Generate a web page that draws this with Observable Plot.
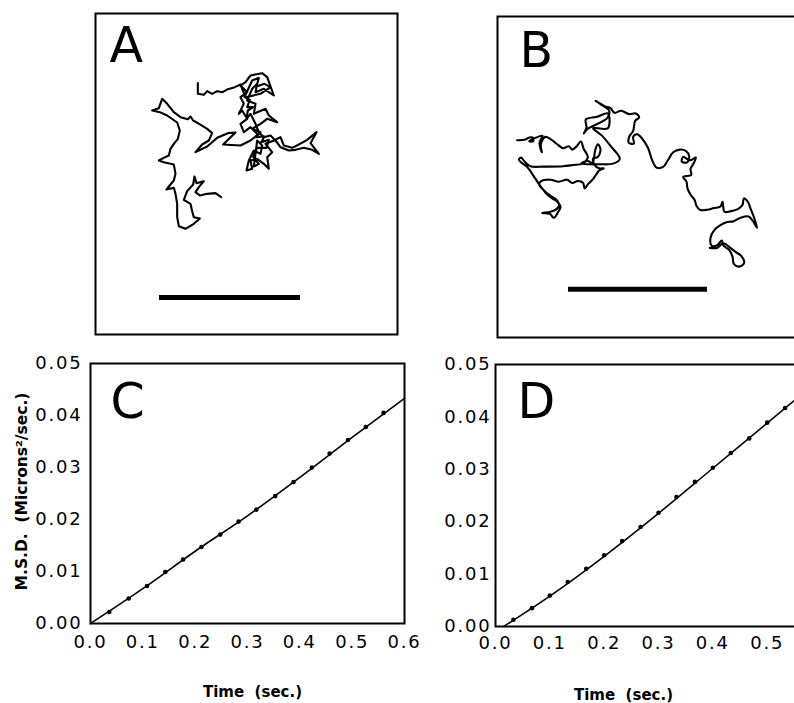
<!DOCTYPE html>
<html>
<head>
<meta charset="utf-8">
<script src="https://cdn.jsdelivr.net/npm/d3@7"></script>
<script src="https://cdn.jsdelivr.net/npm/@observablehq/plot@0.6"></script>
<style>
  html, body { margin: 0; padding: 0; background: #fff; overflow: hidden; }
  #fig { position: relative; width: 794px; height: 703px; overflow: hidden; background: #fff; }
  #fig > svg { position: absolute; overflow: visible; }
  .ticks text { letter-spacing: 1.8px; }
</style>
</head>
<body>
<div id="fig"></div>
<script>
// ---------- Panel A: particle track (trace units, 1 unit = 1/3 px of the figure) ----------
const trackA = [[242,410],[225,398],[200,400],[178,405],[165,395],[175,380],[190,362],[168,368],[162,348],[158,372],[140,392],[130,418],[150,430],[155,452],[160,470],[178,474],[160,490],[135,505],[115,497],[110,470],[110,430],[105,400],[100,382],[78,387],[90,372],[100,360],[105,340],[100,312],[70,305],[55,300],[68,293],[85,285],[90,265],[100,250],[112,235],[118,210],[110,186],[80,165],[58,155],[35,150],[55,143],[65,115],[80,130],[100,155],[120,170],[142,176],[150,168],[158,180],[176,190],[200,205],[215,218],[205,240],[185,252],[165,275],[200,258],[230,232],[262,218],[285,216],[248,252],[300,255],[330,240],[352,222],[330,200],[310,215],[300,190],[320,175],[305,150],[295,160],[310,130],[300,110],[320,95],[300,75],[315,65],[330,45],[365,38],[380,50],[400,105],[370,85],[345,95],[350,70],[335,85],[320,120],[345,130],[340,160],[375,145],[385,165],[410,185],[380,175],[360,190],[335,205],[360,215],[345,230],[372,228],[362,245],[385,238],[378,262],[350,262],[338,290],[355,310],[340,318],[350,240],[365,255],[360,280],[340,270],[325,300],[318,330],[335,325],[330,300],[350,295],[370,310],[385,325],[380,290],[395,275],[375,250],[400,240],[420,230],[430,255],[455,262],[475,252],[500,238],[528,215],[510,248],[535,280],[515,268],[490,262],[465,268],[445,270],[420,260],[405,240],[390,225],[370,230],[355,215],[345,190],[330,160],[318,175],[322,150],[338,140],[320,140],[328,118],[312,110],[335,60],[355,52],[348,78],[372,70],[390,80],[360,100],[315,110],[300,72],[283,80],[262,86],[246,95],[230,92],[215,100],[200,92],[190,103],[172,100],[172,68]];
const frameA = {x: [-135, 771], y: [-141, 822]};
const scaleBarA = {x1: 57, x2: 480, y: 711};

// ---------- Panel B: particle track ----------
const trackB = [[50,178],[75,176],[86,170],[97,170],[98,181],[86,181],[105,171],[126,165],[117,186],[124,214],[121,190],[134,168],[152,176],[170,190],[188,202],[205,196],[215,206],[227,198],[241,182],[250,205],[262,228],[246,248],[218,252],[188,256],[130,257],[90,256],[72,242],[62,230],[55,236],[64,246],[80,258],[92,274],[104,292],[116,310],[128,326],[140,340],[155,352],[170,362],[180,378],[172,394],[160,410],[148,398],[125,396],[150,392],[168,384],[176,372],[168,356],[150,344],[128,326],[116,310],[122,300],[150,296],[175,302],[200,296],[215,306],[232,300],[248,306],[252,322],[262,310],[276,296],[286,282],[296,268],[310,262],[296,262],[282,252],[278,232],[292,228],[300,205],[292,190],[284,208],[276,246],[262,240],[242,248],[270,250],[300,250],[338,248],[358,234],[330,195],[305,165],[278,142],[322,142],[322,98],[290,108],[256,116],[258,140],[250,158],[260,145],[320,112],[326,90],[300,70],[285,60],[312,76],[330,82],[342,96],[362,90],[386,100],[406,98],[416,110],[404,120],[398,150],[386,168],[385,186],[400,188],[398,168],[410,160],[424,172],[442,200],[455,238],[468,260],[488,258],[502,238],[518,214],[538,206],[556,210],[566,226],[560,244],[544,242],[548,228],[568,238],[586,230],[578,250],[570,264],[572,282],[548,288],[558,302],[561,322],[571,342],[582,356],[588,374],[598,386],[620,386],[640,381],[660,376],[666,362],[672,392],[692,390],[712,384],[726,372],[730,352],[742,362],[750,382],[758,402],[770,440],[756,418],[744,406],[720,410],[700,420],[676,424],[660,432],[642,446],[630,470],[634,494],[650,492],[664,478],[668,492],[686,506],[696,526],[700,548],[716,556],[731,545],[722,524],[705,512],[690,500],[668,486],[650,500],[628,500]];
const frameB = {x: [-9, 897], y: [-192, 768]};
const scaleBarB = {x1: 204, x2: 621, y: 624};

// ---------- Panel C: MSD vs time ----------
const cTime = [0.036,0.073,0.108,0.143,0.177,0.212,0.248,0.283,0.317,0.353,0.388,0.423,0.457,0.492,0.526,0.560];
const cMSD  = [0.0022,0.0048,0.0072,0.0099,0.0123,0.0147,0.0171,0.0196,0.0219,0.0245,0.0272,0.0300,0.0327,0.0353,0.0378,0.0405];
const cFitTime = [0, 0.1, 0.2, 0.3, 0.4, 0.5, 0.6];
const cFitMSD  = [0, 0.0067, 0.0139, 0.0207, 0.0281, 0.0358, 0.0433];

// ---------- Panel D: MSD vs time ----------
const dTime = [0.033,0.067,0.100,0.133,0.167,0.200,0.233,0.267,0.300,0.333,0.367,0.400,0.433,0.467,0.500,0.533];
const dMSD  = [0.0013,0.0035,0.0059,0.0085,0.0110,0.0136,0.0163,0.0190,0.0217,0.0247,0.0276,0.0303,0.0331,0.0359,0.0389,0.0417];
const dFitTime = [0.015, 0.1, 0.2, 0.3, 0.4, 0.5, 0.6];
const dFitMSD  = [0, 0.0058, 0.0134, 0.0216, 0.0302, 0.0388, 0.0475];

// ---------- Axes ----------
const xTicksC = [0, 0.1, 0.2, 0.3, 0.4, 0.5, 0.6];
const xTicksD = [0, 0.1, 0.2, 0.3, 0.4, 0.5];
const yTicks = [0, 0.01, 0.02, 0.03, 0.04, 0.05];
const panelLetters = ["A", "B", "C", "D"];
const xLabel = "Time\u00a0\u00a0(sec.)";
const yLabel = "M.S.D.\u00a0\u00a0(Microns\u00b2/sec.)";

const FONT = "DejaVu Sans";
const fig = document.getElementById("fig");

function place(svg, left, top) {
  svg.style.left = left + "px";
  svg.style.top = top + "px";
  fig.appendChild(svg);
}

function trackPanel(track, frame, bar, letter, dx, dy, curve) {
  return Plot.plot({
    width: 304, height: 323, margin: 1,
    style: {fontFamily: FONT, background: "transparent"},
    x: {domain: frame.x, axis: null},
    y: {domain: frame.y, reverse: true, axis: null},
    marks: [
      Plot.line(track, {x: d => d[0], y: d => d[1], stroke: "black", strokeWidth: 2.1, strokeLinejoin: "round", curve}),
      Plot.ruleY([bar], {x1: d => d.x1, x2: d => d.x2, y: d => d.y, stroke: "black", strokeWidth: 5}),
      Plot.text([letter], {frameAnchor: "top-left", text: d => d, textAnchor: "start", lineAnchor: "top", dx, dy, fontSize: 49, fill: "black"}),
      Plot.frame({stroke: "black", strokeWidth: 2})
    ]
  });
}

place(trackPanel(trackA, frameA, scaleBarA, panelLetters[0], 14, 14, "linear"), 94, 12);
place(trackPanel(trackB, frameB, scaleBarB, panelLetters[1], 22, 16, "catmull-rom"), 496, 15);

function msdPanel(opts) {
  const pts = opts.time.map((t, i) => ({t, m: opts.msd[i]}));
  const fit = opts.fitTime.map((t, i) => ({t, m: opts.fitMSD[i]}));
  const marks = [
    Plot.frame({stroke: "black", strokeWidth: 2}),
    Plot.line(fit, {x: "t", y: "m", stroke: "black", strokeWidth: 1.6, curve: "monotone-x"}),
    Plot.dot(pts, {x: "t", y: "m", r: 2.3, fill: "black", stroke: "none"}),
    Plot.axisX({ticks: opts.xTicks, tickFormat: d3.format(".1f"), tickSize: 0, tickPadding: opts.xPad, label: null, fontSize: 18, className: "ticks"}),
    Plot.axisY({ticks: yTicks, tickFormat: d3.format(".2f"), tickSize: 0, tickPadding: opts.yPad, label: null, fontSize: 18, className: "ticks"}),
    Plot.text([opts.letter], {frameAnchor: "top-left", text: d => d, textAnchor: "start", lineAnchor: "top", dx: opts.ldx, dy: opts.ldy, fontSize: 49, fill: "black"}),
    Plot.text([xLabel], {frameAnchor: "bottom", text: d => d, textAnchor: "middle", lineAnchor: "middle", dx: opts.xlDx, dy: 69, fontSize: 15, fontWeight: "bold", fill: "black"})
  ];
  if (opts.yLabel) {
    marks.push(Plot.text([yLabel], {frameAnchor: "left", text: d => d, textAnchor: "middle", lineAnchor: "middle", rotate: -90, dx: -68, dy: -2, fontSize: 15.5, fontWeight: "bold", fill: "black"}));
  }
  return Plot.plot({
    width: opts.width, height: 353,
    marginLeft: opts.ml, marginRight: opts.mr, marginTop: opts.mt, marginBottom: opts.mb,
    style: {fontFamily: FONT, fontSize: "18px", background: "transparent", color: "black"},
    x: {domain: [0, 0.6]},
    y: {domain: [0, 0.05]},
    marks
  });
}

place(msdPanel({time: cTime, msd: cMSD, fitTime: cFitTime, fitMSD: cFitMSD, letter: panelLetters[2], xTicks: xTicksC,
  width: 420, ml: 90, mr: 16, mt: 13, mb: 80, xPad: 12, yPad: 8, ldx: 20, ldy: 20, xlDx: 5, yLabel: true}), 0, 350);

place(msdPanel({time: dTime, msd: dMSD, fitTime: dFitTime, fitMSD: dFitMSD, letter: panelLetters[3], xTicks: xTicksD,
  width: 420, ml: 85, mr: 9, mt: 14, mb: 77, xPad: 10, yPad: 4, ldx: 22, ldy: 19, xlDx: -35, yLabel: false}), 410, 350);
</script>
</body>
</html>
